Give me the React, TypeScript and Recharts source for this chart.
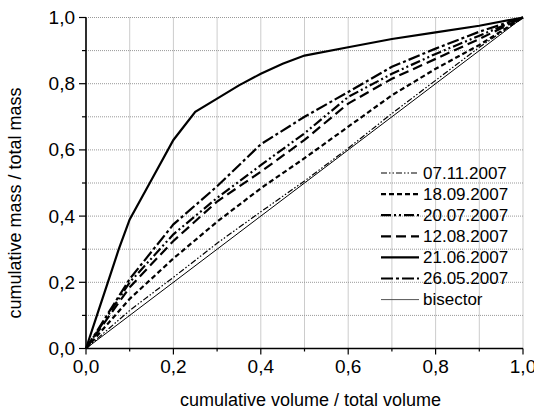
import { LineChart, Line, XAxis, YAxis, CartesianGrid } from "recharts";

const X_STEPS = [0, 0.1, 0.2, 0.3, 0.4, 0.5, 0.6, 0.7, 0.8, 0.9, 1.0];
const Y_0711 = [0, 0.115, 0.215, 0.318, 0.413, 0.506, 0.605, 0.71, 0.81, 0.91, 1.0];
const Y_1809 = [0, 0.15, 0.272, 0.383, 0.484, 0.575, 0.67, 0.765, 0.845, 0.917, 1.0];
const Y_2007 = [0, 0.2, 0.345, 0.455, 0.554, 0.65, 0.76, 0.83, 0.89, 0.945, 1.0];
const Y_1208 = [0, 0.185, 0.325, 0.444, 0.534, 0.63, 0.74, 0.815, 0.875, 0.935, 1.0];
const Y_2605 = [0, 0.21, 0.375, 0.49, 0.617, 0.7, 0.775, 0.851, 0.906, 0.957, 1.0];

// 21.06 bends sharply, so it gets its own denser x list
const X_2106 = [0, 0.025, 0.05, 0.075, 0.1, 0.15, 0.2, 0.25, 0.3, 0.35, 0.4, 0.45, 0.5, 0.6, 0.7, 0.8, 0.9, 1.0];
const Y_2106 = [0, 0.1, 0.2, 0.3, 0.39, 0.51, 0.63, 0.715, 0.755, 0.795, 0.83, 0.86, 0.885, 0.91, 0.935, 0.955, 0.975, 1.0];

const X_BISECTOR = [0, 1];
const Y_BISECTOR = [0, 1];

const TICKS = [0, 0.1, 0.2, 0.3, 0.4, 0.5, 0.6, 0.7, 0.8, 0.9, 1.0];

const FONT = '"Liberation Sans", Arial, sans-serif';

const zip = (xs: number[], ys: number[]) => xs.map((x, i) => ({ x, y: ys[i] }));

const SERIES = [
  { name: "07.11.2007", data: zip(X_STEPS, Y_0711), width: 1.2, dash: "6 2 1.5 2 1.5 2" },
  { name: "18.09.2007", data: zip(X_STEPS, Y_1809), width: 2.2, dash: "5 3" },
  { name: "20.07.2007", data: zip(X_STEPS, Y_2007), width: 2.2, dash: "10 3 2 3 2 3" },
  { name: "12.08.2007", data: zip(X_STEPS, Y_1208), width: 2.2, dash: "10 5" },
  { name: "21.06.2007", data: zip(X_2106, Y_2106), width: 2.2, dash: undefined },
  { name: "26.05.2007", data: zip(X_STEPS, Y_2605), width: 2.2, dash: "12 3 3 3" },
  { name: "bisector", data: zip(X_BISECTOR, Y_BISECTOR), width: 1, dash: undefined },
];

const fmt = (v: number) => v.toFixed(1).replace(".", ",");
const isMajor = (v: number) => Math.round(v * 10) % 2 === 0;

function YTick({ x, y, payload }: any) {
  const major = isMajor(payload.value);
  return (
    <g>
      <line x1={x - (major ? 7 : 4)} x2={x} y1={y} y2={y} stroke="#000" strokeWidth={1.2} />
      {major && (
        <text x={x - 11} y={y} textAnchor="end" dominantBaseline="central"
          fontSize={19} fontFamily={FONT} fill="#000">
          {fmt(payload.value)}
        </text>
      )}
    </g>
  );
}

function XTick({ x, y, payload }: any) {
  const major = isMajor(payload.value);
  return (
    <g>
      <line x1={x} x2={x} y1={y} y2={y + (major ? 6 : 3)} stroke="#000" strokeWidth={1.2} />
      {major && (
        <text x={x} y={y + 24.5} textAnchor="middle"
          fontSize={19} fontFamily={FONT} fill="#000">
          {fmt(payload.value)}
        </text>
      )}
    </g>
  );
}

// legend drawn as an overlay so it doesn't eat plot space
function LegendBox() {
  return (
    <svg width={150} height={160} style={{ position: "absolute", left: 377, top: 160 }}>
      {SERIES.map((s, i) => {
        const cy = 13 + i * 21.1;
        return (
          <g key={s.name}>
            <line x1={4} x2={42} y1={cy} y2={cy} stroke={s.name === "bisector" ? "#555" : "#000"}
              strokeWidth={s.width} strokeDasharray={s.dash} />
            <text x={46} y={cy} dominantBaseline="central" fontSize={17}
              fontFamily={FONT} fill="#000">
              {s.name}
            </text>
          </g>
        );
      })}
    </svg>
  );
}

export default function App() {
  return (
    <div style={{ position: "absolute", left: 0, top: 0, width: 534, height: 414 }}>
      <LineChart width={534} height={414} margin={{ top: 17.5, right: 11, bottom: 0, left: 0 }}>
        <CartesianGrid stroke="#999" strokeDasharray="1 1" />
        <XAxis
          type="number"
          dataKey="x"
          domain={[0, 1]}
          ticks={TICKS}
          interval={0}
          height={65.5}
          tickSize={0}
          tickMargin={0}
          tickLine={false}
          tick={<XTick />}
          axisLine={{ stroke: "#000", strokeWidth: 1.6 }}
          label={{
            value: "cumulative volume / total volume",
            position: "insideBottom",
            offset: 8,
            dx: 6,
            fontSize: 18,
            fontFamily: FONT,
            fill: "#000",
          }}
        />
        <YAxis
          type="number"
          dataKey="y"
          domain={[0, 1]}
          ticks={TICKS}
          interval={0}
          width={86}
          tickSize={0}
          tickMargin={0}
          tickLine={false}
          tick={<YTick />}
          axisLine={{ stroke: "#000", strokeWidth: 1.6 }}
          label={{
            value: "cumulative mass / total mass",
            angle: -90,
            position: "insideLeft",
            offset: 0,
            dx: 15,
            dy: 20,
            fontSize: 18,
            fontFamily: FONT,
            fill: "#000",
            style: { textAnchor: "middle" },
          }}
        />
        {SERIES.map((s) => (
          <Line
            key={s.name}
            data={s.data}
            dataKey="y"
            name={s.name}
            type="linear"
            stroke="#000"
            strokeWidth={s.width}
            strokeDasharray={s.dash}
            dot={false}
            activeDot={false}
            isAnimationActive={false}
          />
        ))}
      </LineChart>
      <LegendBox />
    </div>
  );
}
